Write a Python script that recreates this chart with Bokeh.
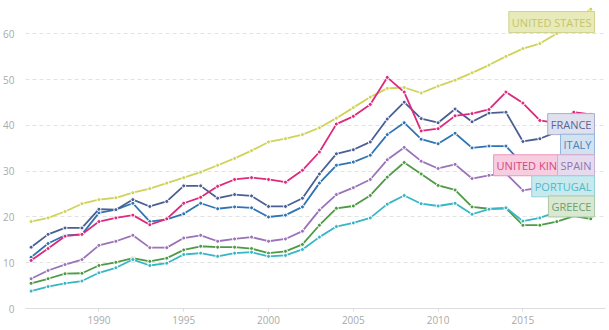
from bokeh.plotting import figure
from bokeh.models import Range1d, Label, FixedTicker
from bokeh.embed import file_html
from bokeh.resources import INLINE

years = list(range(1986, 2020))

united_states = [19.0, 19.8, 21.2, 22.9, 23.8, 24.2, 25.3, 26.2, 27.4, 28.6, 29.8, 31.3, 32.8, 34.5,
                 36.4, 37.1, 38.0, 39.5, 41.6, 43.9, 46.2, 48.1, 48.3, 47.1, 48.6, 49.9, 51.5, 53.2,
                 55.1, 56.8, 57.9, 60.1, 62.6, 65.4]
france = [13.4, 16.2, 17.6, 17.6, 21.7, 21.6, 23.8, 22.3, 23.4, 26.8, 26.8, 24.1, 24.9, 24.6,
          22.3, 22.3, 24.1, 29.4, 33.8, 34.7, 36.4, 41.4, 45.1, 41.5, 40.6, 43.6, 40.8, 42.7,
          42.9, 36.5, 37.1, 38.6, 40.0, 40.2]
italy = [11.2, 14.2, 16.0, 16.2, 20.9, 21.6, 23.0, 19.0, 19.5, 20.7, 23.0, 21.8, 22.2, 22.0,
         20.0, 20.4, 22.2, 27.4, 31.3, 32.0, 33.5, 38.0, 40.6, 37.0, 36.0, 38.3, 35.1, 35.5,
         35.5, 31.5, 31.8, 33.0, 34.2, 33.3]
united_kingdom = [10.5, 13.1, 15.8, 16.2, 19.0, 19.8, 20.4, 18.3, 19.6, 23.0, 24.3, 26.7, 28.2, 28.6,
                  28.2, 27.6, 30.2, 34.2, 40.3, 42.0, 44.6, 50.5, 47.3, 38.8, 39.3, 42.1, 42.6, 43.5,
                  47.3, 44.9, 41.1, 40.5, 42.9, 42.4]
spain = [6.5, 8.3, 9.6, 10.7, 13.8, 14.7, 16.0, 13.3, 13.3, 15.4, 16.0, 14.7, 15.2, 15.6,
         14.7, 15.2, 16.9, 21.5, 24.9, 26.4, 28.2, 32.5, 35.2, 32.2, 30.6, 31.5, 28.4, 29.1,
         29.5, 25.8, 26.4, 28.2, 29.6, 29.8]
portugal = [3.8, 4.8, 5.5, 6.0, 7.8, 8.9, 10.7, 9.4, 9.9, 11.8, 12.1, 11.4, 12.1, 12.3,
            11.4, 11.6, 12.9, 15.6, 17.9, 18.7, 19.8, 22.8, 24.7, 22.9, 22.4, 23.0, 20.6, 21.7,
            22.0, 19.1, 19.8, 21.1, 22.3, 21.8]
greece = [5.5, 6.5, 7.6, 7.7, 9.4, 10.1, 11.0, 10.3, 11.0, 12.8, 13.6, 13.4, 13.4, 13.1,
          12.1, 12.5, 14.0, 18.2, 21.9, 22.4, 24.7, 28.7, 31.9, 29.4, 26.9, 25.9, 22.2, 21.8,
          21.9, 18.2, 18.2, 19.0, 20.2, 19.6]

x_ticks = [1990, 1995, 2000, 2005, 2010, 2015]
y_ticks = [0, 10, 20, 30, 40, 50, 60]

# name, values, line colour, label fill, label border, label text, label centre (value units)
series = [
    ("UNITED STATES", united_states, "#d0d35a", "#e9eab9", "#cfd18c", "#c3c56c", 62.6),
    ("GREECE", greece, "#4f9a45", "#d8e8d3", "#a9c9a3", "#6f9f6a", 22.3),
    ("PORTUGAL", portugal, "#37b6c6", "#c8e9ee", "#8fd2dc", "#4fb9c8", 26.7),
    ("SPAIN", spain, "#9a73b8", "#e6dbee", "#c7b2d8", "#9075ae", 31.3),
    ("ITALY", italy, "#2f74b5", "#d3e2f1", "#93b6dc", "#4a83ba", 35.8),
    ("FRANCE", france, "#4b5f93", "#dfe1ef", "#a8afcf", "#5b6591", 40.3),
    ("UNITED KINGDOM", united_kingdom, "#dc2a7d", "#f7cde0", "#eb95bb", "#d4477f", 31.3),
]

p = figure(width=609, height=330, output_backend="svg", toolbar_location=None,
           x_range=Range1d(1985.67, 2019.87), y_range=Range1d(0, 66),
           min_border_left=23, min_border_right=4, min_border_top=6, min_border_bottom=22)
p.outline_line_color = None
p.background_fill_color = "white"
p.border_fill_color = "white"

p.xgrid.grid_line_color = None
p.ygrid.grid_line_color = "#e2e2e2"
p.ygrid.grid_line_dash = "4 3"
p.ygrid.ticker = FixedTicker(ticks=y_ticks[1:])

p.xaxis.ticker = FixedTicker(ticks=x_ticks)
p.xaxis.axis_line_color = "#dddddd"
p.xaxis.major_tick_line_color = "#dddddd"
p.xaxis.major_tick_out = 3
p.xaxis.major_tick_in = 0
p.xaxis.minor_tick_line_color = None
p.xaxis.major_label_text_color = "#aaaaaa"
p.xaxis.major_label_text_font = "Open Sans"
p.xaxis.major_label_text_font_size = "10px"
p.xaxis.major_label_standoff = 4

p.yaxis.ticker = FixedTicker(ticks=y_ticks)
p.yaxis.axis_line_color = None
p.yaxis.major_tick_line_color = None
p.yaxis.minor_tick_line_color = None
p.yaxis.major_label_text_color = "#aaaaaa"
p.yaxis.major_label_text_font = "Open Sans"
p.yaxis.major_label_text_font_size = "10px"
p.yaxis.major_label_standoff = 5

for name, vals, col, fill, border, tcol, ly in series:
    p.line(years, vals, line_color=col, line_width=1.8)
    p.scatter(years, vals, size=4, fill_color=col, line_color="white", line_width=1)

label_order = ["UNITED STATES", "FRANCE", "ITALY", "UNITED KINGDOM", "SPAIN", "PORTUGAL", "GREECE"]
lookup = {s[0]: s for s in series}
for nm in label_order:
    name, vals, col, fill, border, tcol, ly = lookup[nm]
    lab = Label(x=2019.22, y=ly, text=name, text_align="right", text_baseline="middle",
                text_font="Open Sans", text_font_size="11px", text_color=tcol,
                background_fill_color=fill, background_fill_alpha=1.0,
                border_line_color=border, border_line_width=1, padding=3)
    p.add_layout(lab)

open("out.html", "w").write(file_html(p, INLINE))
